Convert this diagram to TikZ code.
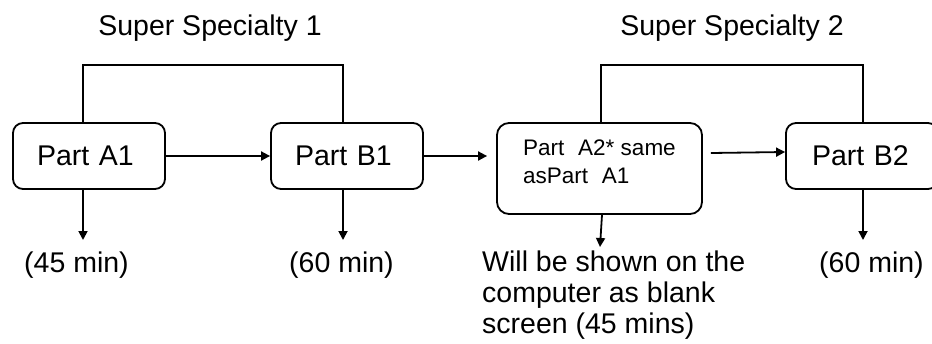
\documentclass[tikz,border=0pt]{standalone}
\usepackage{fontspec}
\setmainfont{Liberation Sans}
\usetikzlibrary{arrows.meta}
\begin{document}
\begin{tikzpicture}[x=1pt,y=-1pt,
  bigtext/.style={font=\fontsize{28.5}{31}\selectfont},
  stepbox/.style={draw,line width=1.8pt,rounded corners=10pt,inner xsep=24pt,inner ysep=0pt,
     minimum height=66pt,text width=104pt,align=left,bigtext},
  arr/.style={line width=1.8pt,-{Triangle[length=9pt,width=9pt]}},
  ln/.style={line width=1.8pt}]
\useasboundingbox (0,0) rectangle (932,343);
% titles
\node[bigtext,anchor=base] (t1) at (210,35) {Super Specialty 1};
\node[bigtext,anchor=base] (t2) at (732,35) {Super Specialty 2};
% boxes
\node[stepbox] (A1) at (89,156) {Part A1};
\node[stepbox] (B1) at (347,156) {Part B1};
\node[draw,line width=1.8pt,rounded corners=12pt,minimum width=205pt,minimum height=91pt,
      inner sep=0pt] (A2) at (599.5,168.5) {};
\node[anchor=north west,inner sep=0pt,align=left,font=\fontsize{22.5}{28}\selectfont] (A2t) at (523,140)
  {Part\,\, A2* same\\ asPart\,\, A1};
\node[stepbox,inner xsep=26pt,text width=100pt] (B2) at (862,156) {Part B2};
% brackets
\draw[ln] ([xshift=-6pt]A1.north) -- ++(0,-57) -| ([xshift=-4pt]B1.north);
\draw[ln] ([xshift=1.5pt]A2.north) -- ++(0,-57) -| ([xshift=1pt]B2.north);
% horizontal arrows
\draw[arr] (A1.east) -- (B1.west);
\draw[arr,shorten >=9pt] (B1.east) -- (B1.east -| A2.west);
\draw[arr] ([xshift=8pt,yshift=15.5pt]A2.east) -- ([yshift=4pt]B2.west);
% down arrows and labels
\coordinate (e1) at (83,240);
\coordinate (e2) at (343,240);
\coordinate (e3) at (600,247);
\coordinate (e4) at (863,240);
\draw[arr] (A1.south -| e1) -- (e1);
\draw[arr] (B1.south -| e2) -- (e2);
\draw[arr] ([xshift=2.5pt]A2.south) -- (e3);
\draw[arr] (B2.south -| e4) -- (e4);
\node[bigtext,anchor=base] (l1) at (76.5,272) {(45 min)};
\node[bigtext,anchor=base] (l2) at (341.5,272) {(60 min)};
\node[bigtext,anchor=base] (l4) at (871.5,272) {(60 min)};
\node[bigtext,anchor=north west,inner sep=0pt,align=left] (l3) at (482,251)
  {Will be shown on the\\computer as blank\\screen (45 mins)};
\end{tikzpicture}
\end{document}
